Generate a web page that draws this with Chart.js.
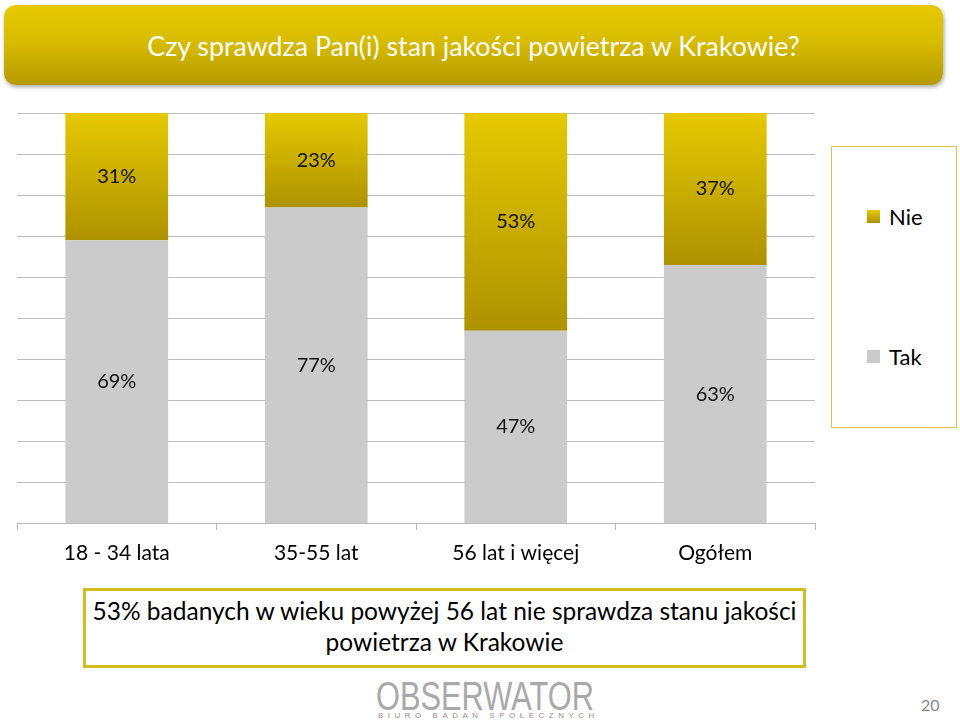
<!DOCTYPE html>
<html>
<head>
<meta charset="utf-8">
<script src="https://cdn.jsdelivr.net/npm/chart.js@4/dist/chart.umd.min.js"></script>
<style>
  html,body{margin:0;padding:0;background:#fff;}
  body{width:960px;height:727px;position:relative;overflow:hidden;font-family:Lato,"Open Sans",sans-serif;}
  #banner{position:absolute;left:4px;top:5px;width:939px;height:80px;border-radius:12px;
    background:linear-gradient(to bottom,#e6c900 0%,#d8bc00 45%,#b59a00 100%);
    box-shadow:1px 2px 4px rgba(0,0,0,0.35);color:#fff;font-size:26.8px;
    display:flex;align-items:center;justify-content:center;}
  #banner span{position:relative;left:0px;top:1px;}
  #chartWrap{position:absolute;left:0;top:100px;width:830px;height:480px;}
  #legend{position:absolute;left:831px;top:146px;width:124px;height:280px;border:1.5px solid #d9c64a;background:#fff;}
  .litem{position:absolute;left:35px;font-size:22px;color:#000;display:flex;align-items:center;}
  .lsw{width:13px;height:13px;margin-right:9px;}
  #note{position:absolute;left:83px;top:588px;width:717px;height:70px;border:3px solid #d4bd1f;
    font-size:24.5px;color:#000;text-align:center;line-height:31px;padding-top:4px;box-sizing:content-box;white-space:nowrap;}
  #logo{position:absolute;left:376px;top:674px;color:#a9a9a9;font-family:"Liberation Sans",sans-serif;font-size:40px;
    transform:scaleX(0.77);transform-origin:left top;white-space:nowrap;}
  #logosub{position:absolute;left:378px;top:711px;color:#a88a8a;font-family:"Liberation Sans",sans-serif;font-size:8px;letter-spacing:4.5px;white-space:nowrap;}
  #page{position:absolute;left:921px;top:695px;color:#888;font-size:16px;}
</style>
</head>
<body>
<div id="banner"><span>Czy sprawdza Pan(i) stan jakości powietrza w Krakowie?</span></div>
<div id="chartWrap"><canvas id="c"></canvas></div>
<div id="legend"></div>
<div id="note">53% badanych w wieku powyżej 56 lat nie sprawdza stanu jakości<br>powietrza w Krakowie</div>
<div id="logo">OBSERWATOR</div>
<div id="logosub">BIURO BADAŃ SPOŁECZNYCH</div>
<div id="page">20</div>
<script>
const categories = ["18 - 34 lata", "35-55 lat", "56 lat i więcej", "Ogółem"];
const takValues = [69, 77, 47, 63];
const nieValues = [31, 23, 53, 37];
const seriesNames = ["Tak", "Nie"];
const yTicks = [0, 10, 20, 30, 40, 50, 60, 70, 80, 90, 100];

const GOLD_TOP = '#e6c900';
const GOLD_BOT = '#ad9200';
const GRAY = '#cbcbcb';

function goldFill(ctx) {
  const chart = ctx.chart;
  if (!chart.chartArea || ctx.type !== 'data') return '#d4b800';
  const y = chart.scales.y;
  const top = y.getPixelForValue(takValues[ctx.dataIndex] + nieValues[ctx.dataIndex]);
  const bottom = y.getPixelForValue(takValues[ctx.dataIndex]);
  const g = chart.ctx.createLinearGradient(0, top, 0, bottom);
  g.addColorStop(0, GOLD_TOP);
  g.addColorStop(1, GOLD_BOT);
  return g;
}

const labelPlugin = {
  id: 'segLabels',
  afterDatasetsDraw(chart) {
    const c = chart.ctx;
    c.save();
    c.font = '20px Lato';
    c.fillStyle = '#111';
    c.textAlign = 'center';
    c.textBaseline = 'middle';
    chart.data.datasets.forEach((ds, di) => {
      const meta = chart.getDatasetMeta(di);
      meta.data.forEach((el, i) => {
        const yMid = (el.y + el.base) / 2;
        c.fillText(ds.data[i] + '%', el.x, yMid);
      });
    });
    c.restore();
  }
};

function build() {
  const chart = new Chart(document.getElementById('c'), {
    type: 'bar',
    data: {
      labels: categories,
      datasets: [
        { label: seriesNames[0], data: takValues, backgroundColor: GRAY, borderWidth: 0 },
        { label: seriesNames[1], data: nieValues, backgroundColor: goldFill, borderWidth: 0 }
      ]
    },
    options: {
      responsive: true,
      maintainAspectRatio: false,
      animation: false,
      layout: { padding: { left: 17, right: 15, top: 13, bottom: 3 } },
      datasets: { bar: { categoryPercentage: 1, barPercentage: 0.515 } },
      plugins: { legend: { display: false }, tooltip: { enabled: false } },
      scales: {
        x: {
          stacked: true,
          grid: { offset: true, drawOnChartArea: false, drawTicks: true, tickLength: 6, color: '#b8b8b8' },
          border: { display: true, color: '#b8b8b8' },
          ticks: { color: '#000', font: { family: 'Lato', size: 21 }, padding: 11 }
        },
        y: {
          stacked: true,
          min: 0, max: 100,
          afterBuildTicks(scale) { scale.ticks = yTicks.map(v => ({ value: v })); },
          grid: { color: '#bdbdbd', drawTicks: false },
          border: { display: false },
          ticks: { display: false }
        }
      }
    },
    plugins: [labelPlugin]
  });

  // legend from datasets (reverse order: Nie on top)
  const lg = document.getElementById('legend');
  const tops = [56, 196];
  chart.data.datasets.slice().reverse().forEach((ds, k) => {
    const item = document.createElement('div');
    item.className = 'litem';
    item.style.top = tops[k] + 'px';
    const sw = document.createElement('div');
    sw.className = 'lsw';
    sw.style.background = ds.label === 'Nie'
      ? 'linear-gradient(to bottom,' + GOLD_TOP + ',' + GOLD_BOT + ')' : GRAY;
    item.appendChild(sw);
    const t = document.createElement('span');
    t.textContent = ds.label;
    item.appendChild(t);
    lg.appendChild(item);
  });
}

if (document.fonts && document.fonts.load) {
  document.fonts.load('19px Lato').then(build, build);
} else { build(); }
</script>
</body>
</html>
